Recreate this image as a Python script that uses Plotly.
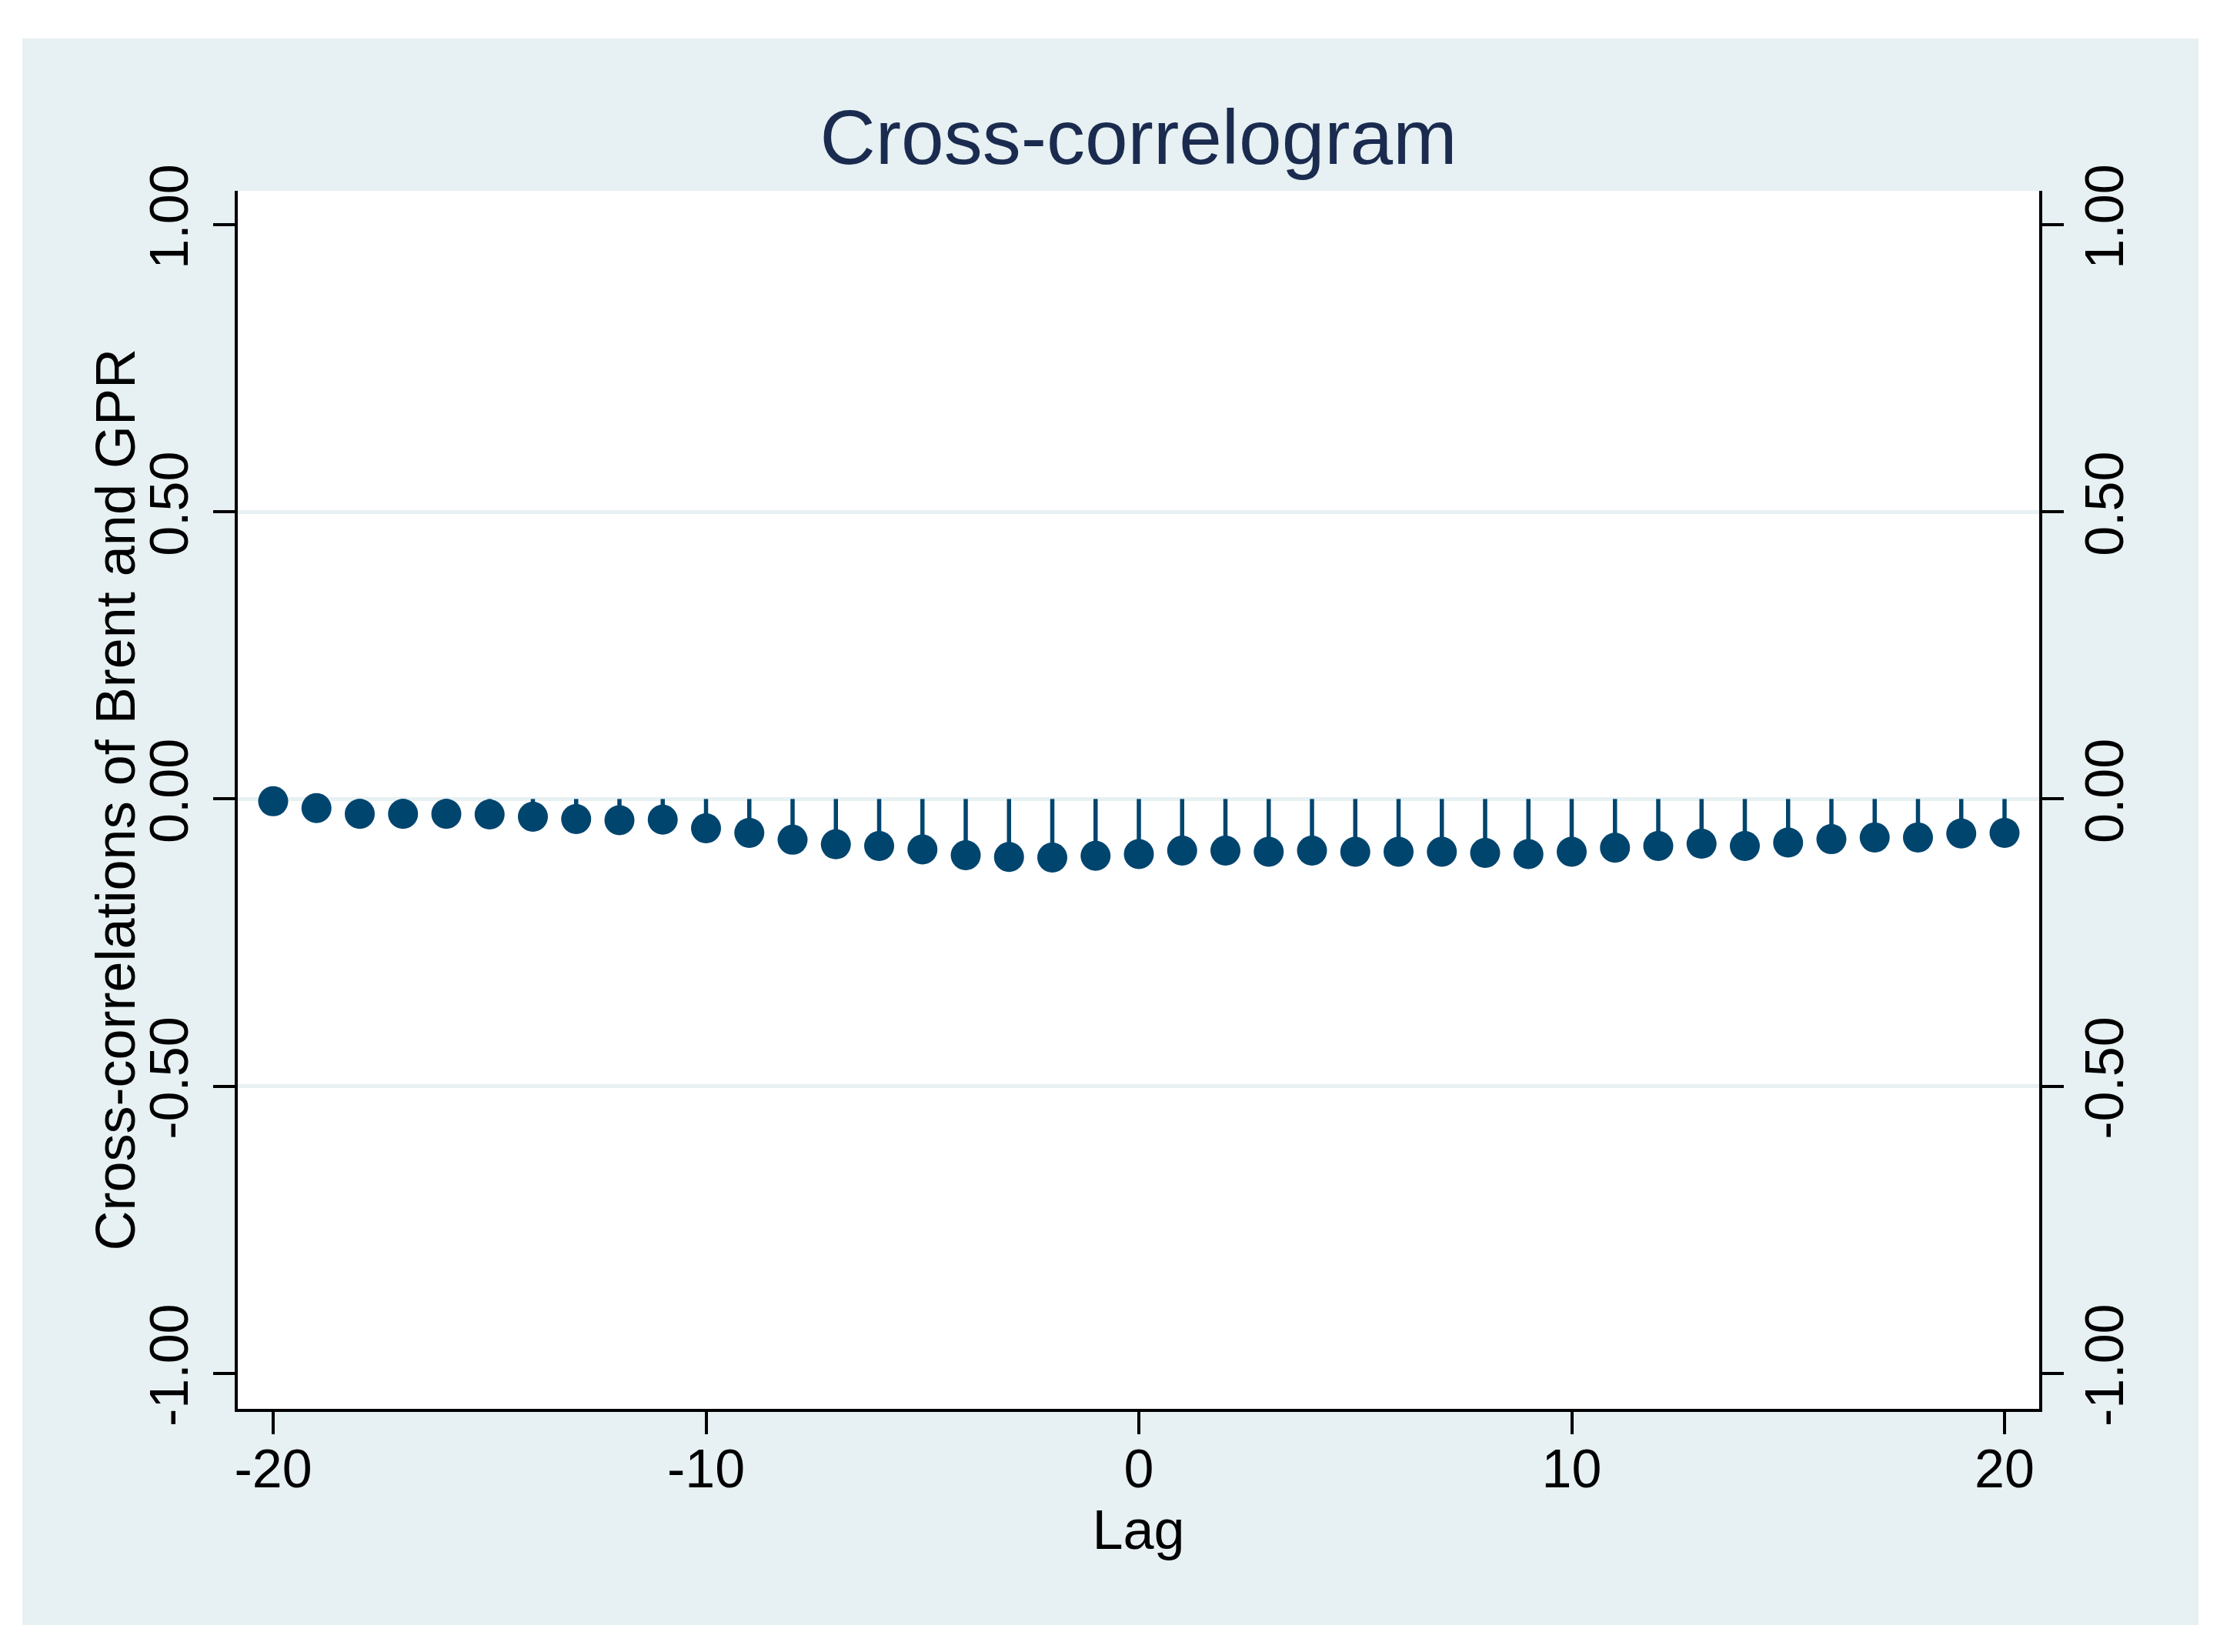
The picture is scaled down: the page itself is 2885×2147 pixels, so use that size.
import plotly.graph_objects as go

# ---- data ----
lags = list(range(-20, 21))
ccf = [-0.004, -0.016, -0.026, -0.026, -0.026, -0.027, -0.031, -0.035, -0.037, -0.036,
       -0.051, -0.059, -0.071, -0.079, -0.082, -0.088, -0.098, -0.101, -0.102, -0.099,
       -0.096, -0.090, -0.090, -0.092, -0.090, -0.092, -0.092, -0.092, -0.094, -0.096,
       -0.092, -0.085, -0.082, -0.078, -0.082, -0.076, -0.070, -0.067, -0.067, -0.060, -0.059]
x_ticks = [-20, -10, 0, 10, 20]
y_ticks = [-1.0, -0.5, 0.0, 0.5, 1.0]
y_ticklabels = ["-1.00", "-0.50", "0.00", "0.50", "1.00"]
grid_vals = [-0.5, 0.0, 0.5]

title_text = "Cross-correlogram"
x_title = "Lag"
y_title = "Cross-correlations of Brent and GPR"

# ---- style ----
OFF = 8  # default page body margin
W, H = 2885 - OFF, 2147 - OFF
ML, MR, MT, MB = 309 - OFF, 235, 248 - OFF, 316
BG = "#e7f0f2"
NAVY = "#00456e"
FONT = "Liberation Sans, Arial, sans-serif"
YR = [-1.062, 1.059]
XR = [-20.818, 20.8]

# stems built from data
stem_x, stem_y = [], []
for l, v in zip(lags, ccf):
    stem_x += [l, l, None]
    stem_y += [0, v, None]

fig = go.Figure()
fig.add_trace(go.Scatter(x=stem_x, y=stem_y, mode="lines",
                         line=dict(color=NAVY, width=5.5),
                         hoverinfo="skip", showlegend=False))
fig.add_trace(go.Scatter(x=lags, y=ccf, mode="markers",
                         marker=dict(color=NAVY, size=39, line=dict(width=0)),
                         showlegend=False))
# invisible traces to activate the right-hand and grid axes
fig.add_trace(go.Scatter(x=lags, y=ccf, mode="markers", yaxis="y2",
                         marker=dict(opacity=0), hoverinfo="skip", showlegend=False))
fig.add_trace(go.Scatter(x=lags, y=ccf, mode="markers", yaxis="y3",
                         marker=dict(opacity=0), hoverinfo="skip", showlegend=False))

pw = W - ML - MR
ph = H - MT - MB
# light background panel and white plot region
fig.add_shape(type="rect", xref="paper", yref="paper", layer="below",
              x0=(29 - OFF - ML) / pw, x1=(2857 - OFF - ML) / pw,
              y0=(H - MB - (2112 - OFF)) / ph, y1=(H - MB - (50 - OFF)) / ph,
              fillcolor=BG, line=dict(width=0))
fig.add_shape(type="rect", xref="paper", yref="paper", layer="below",
              x0=0, x1=1, y0=0, y1=1, fillcolor="white", line=dict(width=0))

tickfont = dict(family=FONT, size=70, color="black")

# y-axis title as a rotated annotation
fig.add_annotation(text=y_title, xref="paper", yref="paper",
                   x=(149 - OFF - ML) / pw, y=0.5, xanchor="center", yanchor="middle",
                   textangle=-90, showarrow=False,
                   font=dict(family=FONT, size=72, color="black"))

fig.update_layout(
    width=W, height=H,
    margin=dict(l=ML, r=MR, t=MT, b=MB, pad=0),
    paper_bgcolor="white",
    plot_bgcolor="rgba(0,0,0,0)",
    showlegend=False,
    title=dict(text=title_text, x=0.5, xref="paper", y=1 - (178 - OFF) / H, yref="container",
               xanchor="center", yanchor="middle",
               font=dict(family=FONT, size=100, color="#1a2b4f")),
    xaxis=dict(range=XR, tickvals=x_ticks, ticktext=[str(t) for t in x_ticks],
               ticks="outside", ticklen=29, tickwidth=4, tickcolor="black",
               showline=True, linecolor="black", linewidth=4, mirror=False,
               showgrid=False, zeroline=False, tickfont=tickfont,
               ticklabelstandoff=-15,
               title=dict(text=x_title, font=dict(family=FONT, size=72, color="black"),
                          standoff=10)),
    yaxis=dict(range=YR, tickvals=y_ticks, ticktext=y_ticklabels, tickangle=-90,
               ticks="outside", ticklen=28, tickwidth=4, tickcolor="black",
               showline=True, linecolor="black", linewidth=4,
               showgrid=False, zeroline=False, tickfont=tickfont,
               ticklabelstandoff=5),
    yaxis2=dict(range=YR, overlaying="y", side="right", anchor="x",
                tickvals=y_ticks, ticktext=y_ticklabels, tickangle=-90,
                ticks="outside", ticklen=28, tickwidth=4, tickcolor="black",
                showline=True, linecolor="black", linewidth=4,
                showgrid=False, zeroline=False, tickfont=tickfont,
                ticklabelstandoff=-7),
    yaxis3=dict(range=YR, overlaying="y", side="left", anchor="x",
                tickvals=grid_vals, showticklabels=False, ticks="",
                showline=False, showgrid=True, gridcolor=BG, gridwidth=5,
                zeroline=False),
)

fig.write_html("out.html")
